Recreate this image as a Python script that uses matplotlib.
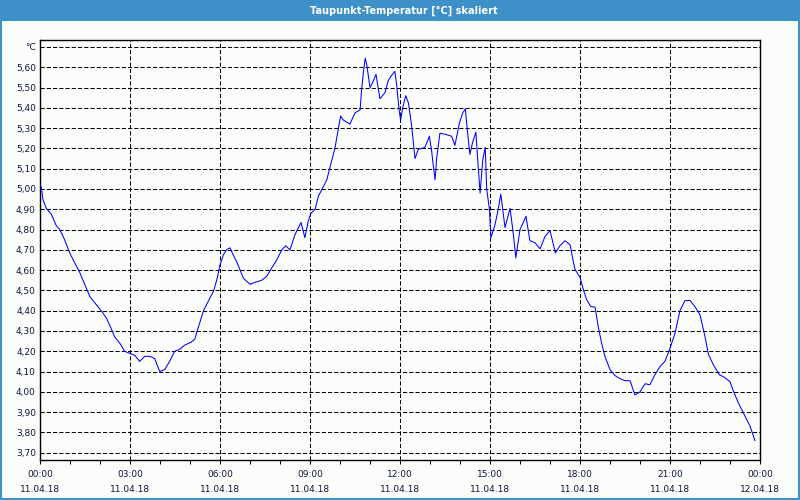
import matplotlib
matplotlib.use('Agg')
import matplotlib.pyplot as plt
from matplotlib.patches import Rectangle
from matplotlib.ticker import MultipleLocator

# Messwerte (Stunden seit 11.04.18 00:00, Taupunkt in °C)
hours = [0.0, 0.04, 0.1, 0.21, 0.38, 0.54, 0.66, 0.82, 0.99, 1.16, 1.32, 1.49, 1.66, 1.82,
         2.04, 2.21, 2.38, 2.49, 2.66, 2.82, 2.99, 3.16, 3.32, 3.49, 3.66, 3.82, 3.99, 4.16,
         4.32, 4.49, 4.66, 4.82, 5.04, 5.16, 5.24, 5.45, 5.55, 5.78, 5.89, 6.0, 6.11, 6.22,
         6.33, 6.44, 6.56, 6.67, 6.78, 6.89, 7.0, 7.17, 7.39, 7.56, 7.72, 7.89, 8.06, 8.19,
         8.33, 8.5, 8.7, 8.83, 8.94, 9.03, 9.17, 9.28, 9.44, 9.56, 9.67, 9.83, 9.92, 10.02,
         10.11, 10.33, 10.5, 10.67, 10.72, 10.78, 10.84, 10.89, 11.0, 11.09, 11.2, 11.33,
         11.5, 11.61, 11.72, 11.83, 11.89, 11.97, 12.02, 12.09, 12.19, 12.28, 12.39, 12.5,
         12.61, 12.83, 12.98, 13.06, 13.11, 13.17, 13.22, 13.33, 13.5, 13.72, 13.83, 13.98,
         14.09, 14.18, 14.22, 14.33, 14.42, 14.53, 14.59, 14.67, 14.76, 14.84, 14.89, 14.98,
         15.03, 15.17, 15.28, 15.36, 15.5, 15.67, 15.78, 15.86, 16.0, 16.2, 16.33, 16.5,
         16.67, 16.83, 17.0, 17.18, 17.33, 17.5, 17.67, 17.76, 17.83, 18.0, 18.11, 18.22,
         18.36, 18.5, 18.61, 18.72, 18.83, 19.0, 19.17, 19.33, 19.5, 19.67, 19.83, 20.0,
         20.17, 20.33, 20.5, 20.67, 20.83, 21.0, 21.17, 21.33, 21.5, 21.67, 21.83, 22.0,
         22.17, 22.28, 22.44, 22.64, 22.83, 23.0, 23.11, 23.28, 23.5, 23.67, 23.83]
dewpoint = [5.02, 5.01, 4.947, 4.905, 4.875, 4.82, 4.80, 4.75, 4.685, 4.635, 4.59, 4.53,
            4.47, 4.44, 4.40, 4.365, 4.31, 4.27, 4.24, 4.20, 4.19, 4.18, 4.15, 4.175, 4.175,
            4.165, 4.10, 4.11, 4.15, 4.20, 4.21, 4.23, 4.245, 4.26, 4.30, 4.40, 4.43, 4.495,
            4.55, 4.625, 4.675, 4.70, 4.71, 4.675, 4.64, 4.60, 4.56, 4.545, 4.53, 4.54, 4.55,
            4.57, 4.61, 4.65, 4.70, 4.72, 4.70, 4.775, 4.835, 4.76, 4.84, 4.88, 4.90, 4.965,
            5.01, 5.045, 5.11, 5.20, 5.275, 5.36, 5.34, 5.32, 5.375, 5.39, 5.49, 5.575, 5.645,
            5.615, 5.50, 5.525, 5.565, 5.445, 5.475, 5.535, 5.56, 5.58, 5.51, 5.39, 5.34, 5.40,
            5.46, 5.425, 5.31, 5.15, 5.195, 5.205, 5.26, 5.18, 5.115, 5.045, 5.15, 5.275, 5.27,
            5.26, 5.215, 5.325, 5.375, 5.395, 5.325, 5.17, 5.23, 5.28, 5.145, 4.98, 5.145,
            5.205, 5.00, 4.90, 4.76, 4.825, 4.905, 4.975, 4.81, 4.905, 4.775, 4.66, 4.80,
            4.865, 4.745, 4.735, 4.705, 4.765, 4.795, 4.685, 4.72, 4.745, 4.725, 4.655, 4.605,
            4.565, 4.505, 4.455, 4.42, 4.418, 4.32, 4.24, 4.175, 4.11, 4.08, 4.065, 4.055,
            4.055, 3.985, 4.00, 4.04, 4.035, 4.085, 4.125, 4.15, 4.215, 4.29, 4.40, 4.45, 4.45,
            4.42, 4.38, 4.27, 4.185, 4.135, 4.085, 4.07, 4.05, 4.005, 3.945, 3.88, 3.83, 3.76]

xtick_hours = [0, 3, 6, 9, 12, 15, 18, 21, 24]
xtick_labels = ['00:00\n11.04.18', '03:00\n11.04.18', '06:00\n11.04.18', '09:00\n11.04.18',
                '12:00\n11.04.18', '15:00\n11.04.18', '18:00\n11.04.18', '21:00\n11.04.18',
                '00:00\n12.04.18']
ytick_vals = [3.7, 3.8, 3.9, 4.0, 4.1, 4.2, 4.3, 4.4, 4.5, 4.6, 4.7, 4.8, 4.9,
              5.0, 5.1, 5.2, 5.3, 5.4, 5.5, 5.6, 5.7]

title = 'Taupunkt-Temperatur [°C] skaliert'
bar_blue = '#3d90c8'
txt_col = '#14143a'

plt.rcParams['font.family'] = ['DejaVu Sans']

fig = plt.figure(figsize=(8, 5), dpi=100, facecolor='#fbfdfb')
ax = fig.add_axes([0.05, 0.08, 0.90, 0.84], facecolor='#fbfdfb')

# title bar + frame of the window
fig.patches.append(Rectangle((0, 1 - 21/500), 1, 21/500, transform=fig.transFigure,
                             facecolor=bar_blue, edgecolor='none', zorder=0))
fig.patches.append(Rectangle((0.001, 0.002), 0.998, 0.997, transform=fig.transFigure,
                             facecolor='none', edgecolor=bar_blue, lw=1.5, zorder=1))
fig.text(0.505, 1 - 10.5/500, title, color='white', fontsize=7, fontweight='bold',
         ha='center', va='center')

ax.plot(hours, dewpoint, color='#0000ff', lw=0.75, zorder=3)

ax.set_xlim(0, 24)
ax.set_ylim(3.664, 5.7345)

ax.set_xticks(xtick_hours)
ax.set_xticklabels(xtick_labels)
ax.xaxis.set_minor_locator(MultipleLocator(1))
ax.set_yticks(ytick_vals)
ylabels = ['%.2f' % v for v in ytick_vals]
ylabels = [s.replace('.', ',') for s in ylabels]
ylabels[-1] = '°C'
ax.set_yticklabels(ylabels)

ax.tick_params(axis='x', which='both', direction='out', length=3, width=0.75,
               labelsize=6.5, labelcolor=txt_col, pad=4)
ax.tick_params(axis='y', length=0, labelsize=6.5, labelcolor=txt_col, pad=3)
for lbl in ax.get_xticklabels():
    lbl.set_linespacing(1.9)

# dashed grid, no vertical line on the frame edges
for h in xtick_hours[1:-1]:
    ax.axvline(h, color='black', lw=0.75, ls=(0, (4, 2)), zorder=1)
for v in ytick_vals:
    ax.axhline(v, color='black', lw=0.75, ls=(0, (4, 2)), zorder=1)

for sp in ax.spines.values():
    sp.set_color('black')
    sp.set_linewidth(1.0)

fig.savefig('out.png', dpi=100, facecolor=fig.get_facecolor())
